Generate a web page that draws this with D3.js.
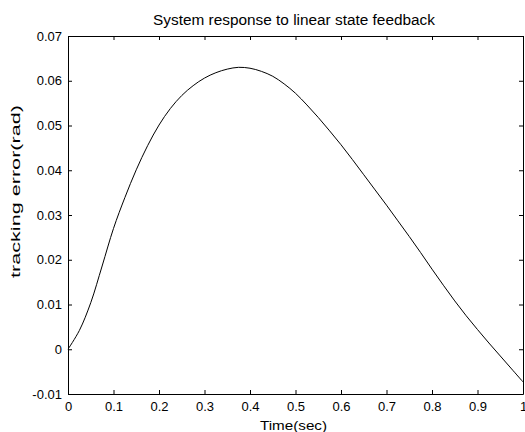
<!DOCTYPE html>
<html>
<head>
<meta charset="utf-8">
<script src="https://cdn.jsdelivr.net/npm/d3@7"></script>
<style>
  html, body { margin: 0; padding: 0; background: #fff; }
  svg { display: block; font-family: "Liberation Sans", Arial, sans-serif; }
</style>
</head>
<body>
<svg id="chart" width="525" height="432"></svg>
<script>
// Time samples (sec) and tracking error (rad) of the closed-loop response
const time = [0, 0.025, 0.05, 0.075, 0.1, 0.125, 0.15, 0.175, 0.2, 0.225, 0.25,
  0.275, 0.3, 0.325, 0.35, 0.375, 0.4, 0.425, 0.45, 0.475, 0.5,
  0.525, 0.55, 0.575, 0.6, 0.625, 0.65, 0.675, 0.7, 0.725, 0.75,
  0.775, 0.8, 0.825, 0.85, 0.875, 0.9, 0.925, 0.95, 0.975, 1.0];
const trackingError = [0, 0.0042, 0.0104, 0.0186, 0.0270, 0.0339, 0.0401, 0.0455, 0.0501, 0.0538, 0.0567,
  0.0589, 0.0606, 0.0618, 0.0626, 0.0630, 0.0628, 0.0621, 0.0610, 0.0593, 0.0572,
  0.0546, 0.0518, 0.0488, 0.0457, 0.0424, 0.0390, 0.0356, 0.0322, 0.0287, 0.0252,
  0.0216, 0.0179, 0.0143, 0.0108, 0.0075, 0.0044, 0.0014, -0.0015, -0.0044, -0.0073];

const xTicks = [0, 0.1, 0.2, 0.3, 0.4, 0.5, 0.6, 0.7, 0.8, 0.9, 1];
const yTicks = [-0.01, 0, 0.01, 0.02, 0.03, 0.04, 0.05, 0.06, 0.07];

const titleText = "System response to linear state feedback";
const xLabel = "Time(sec)";
const yLabel = "tracking error(rad)";

const svg = d3.select("#chart");
const plotL = 68, plotR = 523, plotT = 36, plotB = 394;

const x = d3.scaleLinear().domain([0, 1]).range([plotL, plotR]);
const y = d3.scaleLinear().domain([-0.01, 0.07]).range([plotB, plotT]);

const fmtX = d => (d === 0 || d === 1) ? String(d) : d.toFixed(1);
const fmtY = d => d === 0 ? "0" : d.toFixed(2);
const tickLen = 4;

function styleAxis(g) {
  g.selectAll("path.domain").attr("stroke", "#000").attr("stroke-width", 1);
  g.selectAll(".tick line").attr("stroke", "#000").attr("stroke-width", 1);
  g.selectAll("text").attr("fill", "#000").attr("font-size", "13px")
    .attr("font-family", "Liberation Sans, Arial, sans-serif");
}

// bottom axis with inward ticks
svg.append("g").attr("transform", `translate(0,${plotB})`)
  .call(d3.axisBottom(x).tickValues(xTicks).tickFormat(fmtX).tickSizeInner(-tickLen).tickSizeOuter(0).tickPadding(7.5))
  .call(styleAxis);
// top axis (ticks only)
svg.append("g").attr("transform", `translate(0,${plotT})`)
  .call(d3.axisTop(x).tickValues(xTicks).tickFormat("").tickSizeInner(-tickLen).tickSizeOuter(0))
  .call(styleAxis);
// left axis
svg.append("g").attr("transform", `translate(${plotL},0)`)
  .call(d3.axisLeft(y).tickValues(yTicks).tickFormat(fmtY).tickSizeInner(-tickLen).tickSizeOuter(0).tickPadding(6))
  .call(styleAxis);
// right axis (ticks only)
svg.append("g").attr("transform", `translate(${plotR},0)`)
  .call(d3.axisRight(y).tickValues(yTicks).tickFormat("").tickSizeInner(-tickLen).tickSizeOuter(0))
  .call(styleAxis);

// response curve
const pts = time.map((t, i) => [t, trackingError[i]]);
svg.append("path")
  .datum(pts)
  .attr("fill", "none")
  .attr("stroke", "#000")
  .attr("stroke-width", 1)
  .attr("d", d3.line().x(d => x(d[0])).y(d => y(d[1])).curve(d3.curveCatmullRom));

// title and axis labels
svg.append("text")
  .attr("x", 294).attr("y", 25)
  .attr("text-anchor", "middle").attr("font-size", "14px")
  .attr("textLength", 282).attr("lengthAdjust", "spacingAndGlyphs")
  .text(titleText);
svg.append("text")
  .attr("x", 293.5).attr("y", 429.5)
  .attr("text-anchor", "middle").attr("font-size", "13.5px")
  .attr("textLength", 67).attr("lengthAdjust", "spacingAndGlyphs")
  .text(xLabel);
svg.append("text")
  .attr("transform", "translate(20,191.5) rotate(-90)")
  .attr("text-anchor", "middle").attr("font-size", "12px")
  .attr("textLength", 173).attr("lengthAdjust", "spacingAndGlyphs")
  .text(yLabel);
</script>
</body>
</html>
